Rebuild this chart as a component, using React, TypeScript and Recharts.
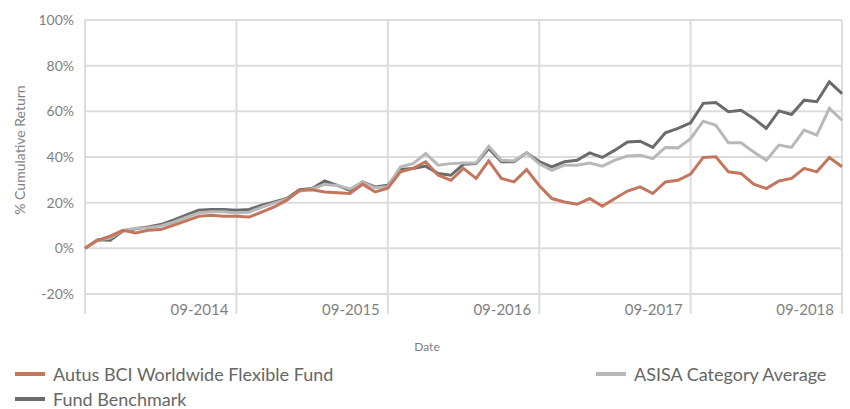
import { LineChart, Line, XAxis, YAxis, CartesianGrid } from "recharts";

// cumulative return (%), monthly 09-2013 .. 09-2018
const fund = [
  0, 3.5, 5.3, 7.9, 6.7, 7.9, 8.2, 10.1, 12.0, 14.0, 14.5, 14.0, 14.0,
  13.7, 15.9, 18.1, 21.1, 25.4, 25.7, 24.7, 24.3, 24.0, 28.1, 24.7, 26.3,
  33.5, 35.0, 37.9, 32.0, 29.8, 35.0, 30.6, 38.3, 30.6, 29.1, 34.5, 27.5,
  21.8, 20.3, 19.3, 21.8, 18.4, 21.8, 25.1, 26.9, 24.0, 29.1, 29.8, 32.5,
  39.8, 40.1, 33.5, 32.8, 28.1, 26.2, 29.5, 30.6, 35.0, 33.5, 39.8, 35.7,
];
const benchmark = [
  0, 3.8, 3.5, 7.6, 8.6, 9.4, 10.4, 12.3, 14.5, 16.7, 17.0, 17.0, 16.7,
  17.0, 18.9, 20.3, 21.8, 25.7, 26.2, 29.5, 27.6, 25.4, 29.1, 26.9, 27.6,
  34.5, 35.0, 36.0, 32.8, 32.0, 36.8, 37.1, 43.7, 37.9, 37.9, 41.8, 38.0,
  35.7, 37.9, 38.6, 41.8, 39.8, 43.0, 46.6, 46.9, 44.2, 50.6, 52.5, 55.0,
  63.5, 63.9, 59.8, 60.5, 56.9, 52.5, 60.2, 58.6, 64.9, 64.2, 72.9, 67.8,
];
const asisa = [
  0, 3.6, 4.5, 7.8, 8.8, 9.0, 9.8, 11.5, 13.5, 15.5, 16.0, 16.0, 15.5,
  15.8, 18.0, 19.8, 21.5, 25.0, 26.0, 28.0, 27.5, 26.0, 29.0, 26.5, 27.0,
  35.7, 37.1, 41.5, 36.4, 37.1, 37.4, 37.4, 44.7, 38.6, 38.3, 41.8, 37.0,
  34.2, 36.4, 36.4, 37.4, 36.0, 38.6, 40.4, 40.8, 39.3, 44.2, 44.0, 48.0,
  55.7, 53.9, 46.2, 46.2, 42.2, 38.6, 45.2, 44.2, 51.8, 49.6, 61.3, 56.1,
];

const xTicks = [0, 12, 24, 36, 48, 60];
const xTickLabels = ["", "09-2014", "09-2015", "09-2016", "09-2017", "09-2018"];
const yTicks = [-20, 0, 20, 40, 60, 80, 100];

const data = fund.map((v, i) => ({
  i,
  fund: v,
  benchmark: benchmark[i],
  asisa: asisa[i],
}));

const FONT = "Lato, sans-serif";
const TEXT = "#7f7f7f";
const GRID = "#dcdcdc";
const C_FUND = "#c4765d";
const C_BENCH = "#6b6b69";
const C_ASISA = "#b8b8b8";

function DateTick(props: any) {
  const { x, y, payload } = props;
  const label = xTickLabels[xTicks.indexOf(payload.value)];
  if (!label) return null;
  return (
    <text x={x - 8} y={y - 1} textAnchor="end" fontSize={15} fill={TEXT} fontFamily={FONT}>
      {label}
    </text>
  );
}

function LegendItem({ color, label, left, top }: { color: string; label: string; left: number; top: number }) {
  return (
    <div style={{ position: "absolute", left, top, display: "flex", alignItems: "center" }}>
      <div style={{ width: 30, height: 4, background: color, marginRight: 8 }} />
      <span style={{ fontSize: 18, color: "#666", fontFamily: FONT }}>{label}</span>
    </div>
  );
}

export default function App() {
  return (
    <div style={{ position: "absolute", left: 0, top: 0, width: 850, height: 409, background: "#fff" }}>
      <LineChart width={850} height={409} data={data} margin={{ top: 20, right: 8, left: 0, bottom: 0 }}>
        <CartesianGrid stroke={GRID} strokeWidth={2} />
        <XAxis
          dataKey="i"
          type="number"
          domain={[0, 60]}
          ticks={xTicks}
          height={115}
          tickSize={20}
          tickLine={{ stroke: GRID, strokeWidth: 2 }}
          axisLine={{ stroke: GRID, strokeWidth: 2 }}
          tick={<DateTick />}
          interval={0}
          label={() => (
            <text x={427} y={351} textAnchor="middle" fontSize={12} fill={TEXT} fontFamily={FONT}>
              Date
            </text>
          )}
        />
        <YAxis
          domain={[-20, 100]}
          ticks={yTicks}
          width={85}
          axisLine={false}
          tickLine={false}
          tickMargin={5}
          tickFormatter={(v) => `${v}%`}
          tick={{ fontSize: 14, fill: TEXT, fontFamily: FONT }}
          label={() => (
            <text
              x={19}
              y={150}
              transform="rotate(-90, 19, 150)"
              textAnchor="middle"
              dominantBaseline="central"
              fontSize={14}
              fill={TEXT}
              fontFamily={FONT}
            >
              % Cumulative Return
            </text>
          )}
        />
        <Line type="linear" dataKey="benchmark" stroke={C_BENCH} strokeWidth={3} dot={false} isAnimationActive={false} />
        <Line type="linear" dataKey="asisa" stroke={C_ASISA} strokeWidth={3} dot={false} isAnimationActive={false} />
        <Line type="linear" dataKey="fund" stroke={C_FUND} strokeWidth={3} dot={false} isAnimationActive={false} />
      </LineChart>
      <LegendItem color={C_FUND} label="Autus BCI Worldwide Flexible Fund" left={15} top={363} />
      <LegendItem color={C_ASISA} label="ASISA Category Average" left={596} top={363} />
      <LegendItem color={C_BENCH} label="Fund Benchmark" left={15} top={388} />
    </div>
  );
}
